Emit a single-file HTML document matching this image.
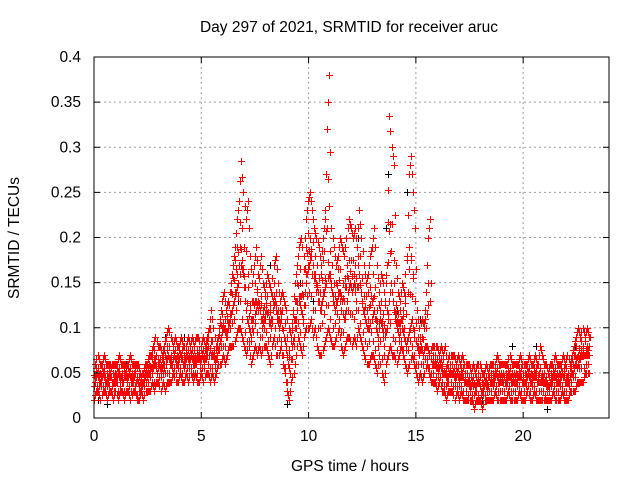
<!DOCTYPE html>
<html><head><meta charset="utf-8"><style>
body{margin:0;background:#fff;}
svg{display:block;font-family:"Liberation Sans",sans-serif;}
</style></head><body>
<svg id="chart" width="640" height="480" viewBox="0 0 640 480" xmlns="http://www.w3.org/2000/svg">
<rect x="0" y="0" width="640" height="480" fill="#fff"/>
<text x="349" y="32" font-size="15.5" text-anchor="middle">Day 297 of 2021, SRMTID for receiver aruc</text>
<g id="grid"></g>
<g id="marks"></g>
<rect x="94" y="57" width="515" height="361" fill="none" stroke="#000" stroke-width="1"/>
<g id="ticks"></g>
<text transform="translate(19,238) rotate(-90)" font-size="15.5" text-anchor="middle">SRMTID / TECUs</text>
<text x="350" y="471" font-size="15.5" text-anchor="middle">GPS time / hours</text>
</svg>
<script>
const xTicks=[0,5,10,15,20];
const yTicks=[0,0.05,0.1,0.15,0.2,0.25,0.3,0.35,0.4];
const yTickLabels=["0","0.05","0.1","0.15","0.2","0.25","0.3","0.35","0.4"];
const sampleStart=0, sampleStep=0.1;
const redLow=[.02,.03,.03,.02,.03,.03,.02,.03,.03,.02,
.03,.02,.03,.03,.02,.03,.03,.02,.03,.03,
.02,.02,.03,.02,.03,.03,.03,.04,.03,.04,
.04,.03,.04,.03,.04,.04,.04,.05,.04,.04,
.05,.04,.04,.05,.04,.05,.04,.05,.04,.04,
.05,.04,.05,.05,.04,.05,.04,.05,.06,.06,
.07,.06,.07,.08,.08,.08,.09,.10,.10,.09,
.08,.07,.08,.06,.07,.08,.07,.08,.07,.08,
.08,.07,.06,.08,.09,.07,.07,.08,.06,.05,
.03,.02,.04,.05,.07,.09,.08,.07,.09,.10,
.10,.11,.09,.10,.08,.07,.07,.08,.09,.10,
.09,.08,.08,.09,.10,.08,.07,.08,.09,.09,
.08,.09,.08,.10,.09,.08,.07,.06,.06,.07,
.07,.06,.05,.07,.05,.04,.06,.07,.08,.07,
.07,.06,.07,.08,.07,.06,.05,.06,.07,.06,
.05,.04,.05,.04,.05,.06,.05,.04,.04,.04,
.03,.04,.03,.03,.02,.03,.03,.03,.02,.03,
.02,.03,.02,.02,.02,.02,.02,.01,.02,.02,
.02,.01,.02,.02,.02,.02,.02,.03,.02,.02,
.02,.02,.02,.03,.02,.02,.02,.02,.03,.02,
.02,.02,.03,.02,.02,.03,.02,.02,.02,.02,
.02,.02,.02,.02,.03,.02,.02,.02,.03,.02,
.02,.02,.03,.03,.03,.04,.04,.04,.04,.05,.05];
const redMid=[.04,.05,.04,.04,.05,.04,.04,.05,.04,.04,
.04,.05,.04,.04,.05,.04,.05,.04,.04,.05,
.04,.03,.04,.04,.05,.05,.05,.06,.06,.05,
.06,.05,.06,.06,.07,.06,.06,.07,.06,.06,
.07,.06,.06,.07,.06,.07,.06,.06,.07,.06,
.07,.06,.07,.08,.07,.07,.06,.07,.08,.09,
.10,.09,.10,.11,.12,.13,.14,.15,.17,.16,
.13,.11,.10,.09,.11,.12,.13,.12,.10,.11,
.12,.11,.10,.12,.13,.11,.10,.11,.09,.08,
.06,.05,.08,.09,.11,.13,.12,.11,.14,.16,
.17,.18,.16,.15,.14,.12,.13,.14,.15,.16,
.15,.13,.12,.13,.14,.12,.11,.12,.14,.15,
.14,.15,.13,.16,.14,.12,.11,.10,.10,.11,
.12,.10,.09,.11,.10,.08,.10,.13,.15,.13,
.11,.10,.09,.10,.09,.08,.09,.10,.11,.09,
.08,.07,.08,.07,.08,.08,.07,.06,.06,.06,
.05,.06,.05,.05,.04,.05,.05,.05,.04,.05,
.04,.05,.04,.04,.04,.03,.04,.03,.04,.04,
.03,.03,.04,.03,.04,.04,.04,.05,.04,.04,
.04,.04,.04,.05,.04,.04,.04,.04,.05,.04,
.04,.04,.05,.04,.04,.05,.04,.04,.04,.04,
.04,.03,.04,.04,.05,.04,.04,.04,.05,.04,
.04,.04,.05,.05,.06,.06,.07,.07,.07,.07,.07];
const redHigh=[.06,.07,.06,.06,.07,.06,.06,.06,.06,.06,
.06,.07,.06,.06,.06,.06,.07,.06,.06,.06,
.06,.05,.05,.06,.06,.07,.07,.08,.09,.08,
.08,.07,.08,.09,.10,.09,.08,.09,.08,.08,
.09,.08,.08,.09,.08,.09,.08,.09,.09,.08,
.09,.08,.09,.10,.12,.10,.08,.09,.11,.13,
.14,.12,.13,.15,.17,.19,.22,.24,.285,.25,
.22,.24,.18,.15,.17,.19,.16,.18,.15,.14,
.16,.15,.14,.17,.18,.15,.13,.14,.13,.12,
.10,.09,.12,.15,.17,.19,.20,.18,.22,.24,
.25,.23,.21,.20,.19,.17,.20,.22,.32,.38,
.21,.19,.17,.18,.20,.19,.18,.20,.22,.21,
.20,.21,.19,.23,.20,.17,.15,.16,.18,.19,
.21,.17,.14,.16,.15,.13,.17,.335,.30,.28,
.17,.14,.13,.15,.14,.18,.27,.29,.25,.21,
.12,.10,.11,.10,.14,.20,.22,.08,.08,.08,
.07,.08,.07,.08,.06,.07,.07,.07,.06,.07,
.06,.07,.06,.06,.06,.05,.06,.05,.06,.06,
.05,.05,.06,.05,.06,.06,.06,.07,.06,.06,
.06,.06,.06,.07,.06,.06,.06,.06,.07,.06,
.06,.06,.07,.06,.06,.07,.06,.08,.07,.06,
.06,.05,.06,.06,.07,.06,.06,.06,.07,.06,
.07,.06,.07,.08,.09,.10,.09,.10,.09,.10,.09];
const blackTimes=[0.2,0.6,1.5,3.3,4.2,6.7,7.5,8.2,9.0,9.6,10.2,11.4,12.3,13.0,13.6,13.7,14.1,14.6,15.2,16.4,18.1,19.5,20.6,21.1,21.9,22.4];
const blackValues=[0.02,0.015,0.06,0.09,0.09,0.13,0.15,0.17,0.015,0.15,0.13,0.14,0.2,0.20,0.21,0.27,0.12,0.25,0.11,0.07,0.02,0.08,0.08,0.01,0.05,0.08];

const X0=94,X1=609,Y0=418,Y1=57,XMAX=24,YMAX=0.4;
const xs=t=>X0+(t/XMAX)*(X1-X0);
const ys=v=>Y0-(v/YMAX)*(Y0-Y1);
const NS="http://www.w3.org/2000/svg";
const grid=document.getElementById('grid'),ticks=document.getElementById('ticks'),marks=document.getElementById('marks');
function mk(tag,attrs,parent){const e=document.createElementNS(NS,tag);for(const k in attrs)e.setAttribute(k,attrs[k]);parent.appendChild(e);return e;}
xTicks.forEach(t=>{const x=xs(t);
 if(t>0){const g=mk('line',{x1:x,x2:x,y1:Y1,y2:Y0,stroke:'#a0a0a0','stroke-dasharray':'2,3'},grid);
 
 }
 mk('line',{x1:x,x2:x,y1:Y0,y2:Y0-6,stroke:'#000'},ticks);
 mk('line',{x1:x,x2:x,y1:Y1,y2:Y1+6,stroke:'#000'},ticks);
 const l=mk('text',{x:x,y:Y0+23,'font-size':15.5,'text-anchor':'middle'},ticks);l.textContent=t;
 
 
});
yTicks.forEach((v,i)=>{const y=ys(v);
 if(v>0&&v<0.4){const g=mk('line',{x1:X0,x2:X1,y1:y,y2:y,stroke:'#a0a0a0','stroke-dasharray':'2,3'},grid);
 
 }
 mk('line',{x1:X0,x2:X0+6,y1:y,y2:y,stroke:'#000'},ticks);
 mk('line',{x1:X1,x2:X1-6,y1:y,y2:y,stroke:'#000'},ticks);
 const l=mk('text',{x:X0-13,y:y+5,'font-size':15.5,'text-anchor':'end'},ticks);l.textContent=yTickLabels[i];
 
 
});
function plusPath(ts,vs){let d='';for(let i=0;i<vs.length;i++){const x=Math.round(xs(ts[i]))+0.5,y=Math.round(ys(vs[i]))+0.5;d+=`M${x-3.5},${y}h7M${x},${y-3.5}v7`;}return d;}
const bp=mk('path',{d:plusPath(blackTimes,blackValues),stroke:'#000',fill:'none','stroke-width':1},marks);


function addRed(ts,vals){
 const p=mk('path',{d:plusPath(ts,vals),stroke:'#f00',fill:'none','stroke-width':1},marks);
 
 
}
const nxt=(a,i)=>a[i+1]!==undefined?a[i+1]:a[i];
[[redLow,0],[redMid,0.033],[redHigh,0.066]].forEach(([vals,off])=>{
 addRed(vals.map((_,i)=>sampleStart+i*sampleStep+off),vals);
 addRed(vals.map((_,i)=>sampleStart+i*sampleStep+off+0.05),vals.map((v,i)=>(v+nxt(vals,i))/2));
});
// mixed points between the low/mid/high envelopes
addRed(redLow.map((_,i)=>sampleStart+i*sampleStep+0.017),redLow.map((v,i)=>(v+nxt(redMid,i))/2));
addRed(redMid.map((_,i)=>sampleStart+i*sampleStep+0.083),redMid.map((v,i)=>(v+nxt(redHigh,i))/2));
addRed(redLow.map((_,i)=>sampleStart+i*sampleStep+0.06),redLow.map((v,i)=>(nxt(redLow,i)+redHigh[i])/2));
addRed(redMid.map((_,i)=>sampleStart+i*sampleStep+0.01),redMid.map((v,i)=>(v*3+nxt(redHigh,i))/4));
</script>
</body></html>
